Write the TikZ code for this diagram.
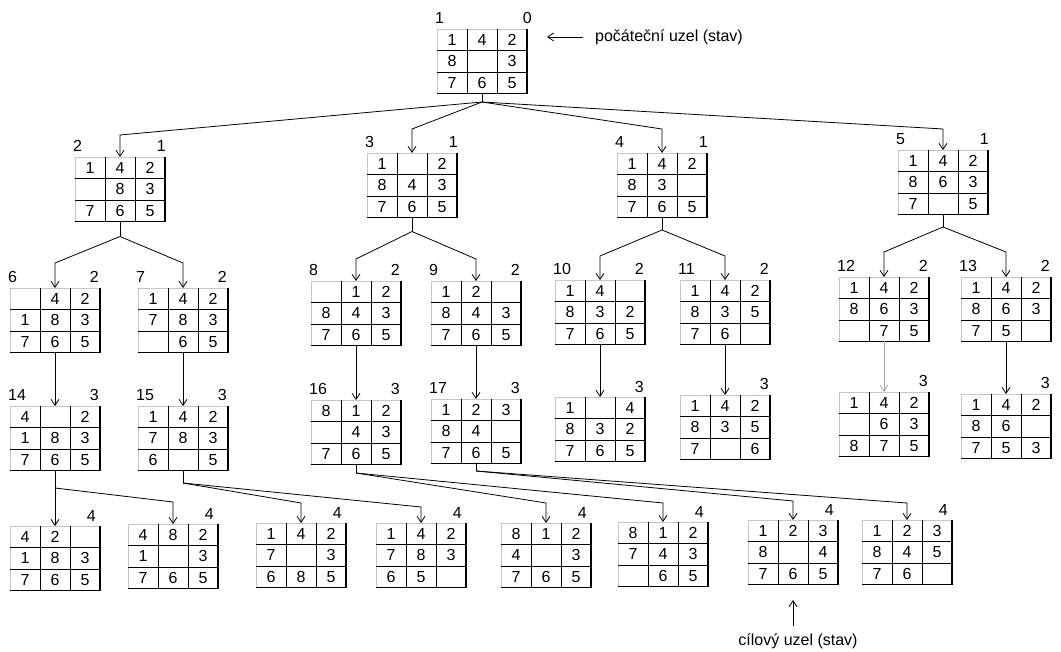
\documentclass[tikz,border=0pt]{standalone}
\usepackage{fontspec}
\setmainfont{Liberation Sans}
\usetikzlibrary{arrows.meta,calc}
\tikzset{
  grid/.style={minimum width=90pt, minimum height=64.5pt, inner sep=0pt, outer sep=0pt, anchor=north west},
  dig/.style={font=\fontsize{16}{16}\selectfont, inner sep=0pt},
  lbl/.style={font=\fontsize{16}{16}\selectfont, inner sep=0pt},
  ann/.style={font=\fontsize{16}{16}\selectfont, inner sep=0pt},
  lightedge/.style={gray!45, line width=0.8pt},
  inedge/.style={black, line width=0.8pt},
  outedge/.style={black, line width=1.8pt},
  wire/.style={black, line width=0.8pt},
  conn/.style={black, line width=0.8pt, -{Straight Barb[length=6pt,width=8pt]}},
}
\def\rlo{0}
% name, position, left label, right label, row1, row2, row3
\newcommand{\puz}[7]{%
  \node[grid] (#1) at (#2) {};
  \draw[lightedge] (#1.south west) -- (#1.north west) -- (#1.north east);
  \foreach \kk in {1,2}{
    \draw[inedge] ($(#1.north west)+(\kk*30,0)$) -- ($(#1.south west)+(\kk*30,0)$);
    \draw[inedge] ($(#1.north west)+(0,\kk*21.5)$) -- ($(#1.north east)+(0,\kk*21.5)$);
  }
  \draw[outedge] ($(#1.south west)+(0,0)$) -- (#1.south east) -- (#1.north east);
  \foreach \aa [count=\col] in {#5} {\node[dig] at ($(#1.north west)+(\col*30-15,10.75)$) {\aa};}
  \foreach \aa [count=\col] in {#6} {\node[dig] at ($(#1.north west)+(\col*30-15,32.25)$) {\aa};}
  \foreach \aa [count=\col] in {#7} {\node[dig] at ($(#1.north west)+(\col*30-15,53.75)$) {\aa};}
  \if\relax\detokenize{#3}\relax\else
    \node[lbl, anchor=base west] (#1-l) at ($(#1.north west)+(-2,-5)$) {#3};
  \fi
  \node[lbl, anchor=base east] (#1-r) at ($(#1.north east)+(\rlo,-5)$) {#4};
}
\begin{document}
\begin{tikzpicture}[x=1pt, y=-1pt]
\useasboundingbox (0,0) rectangle (1061,652);
% root
\def\rlo{5}
\puz{n1}{437,29}{1}{0}{1,4,2}{8,{},3}{7,6,5}
% level 1
\def\rlo{1}
\puz{n2}{75,157}{2}{1}{1,4,2}{{},8,3}{7,6,5}
\puz{n3}{367,153}{3}{1}{1,{},2}{8,4,3}{7,6,5}
\puz{n4}{617,153}{4}{1}{1,4,2}{8,3,{}}{7,6,5}
\puz{n5}{898,150}{5}{1}{1,4,2}{8,6,3}{7,{},5}
% level 2
\def\rlo{-1}
\puz{n6}{10,288}{6}{2}{{},4,2}{1,8,3}{7,6,5}
\puz{n7}{138,288}{7}{2}{1,4,2}{7,8,3}{{},6,5}
\puz{n8}{311,281}{8}{2}{{},1,2}{8,4,3}{7,6,5}
\puz{n9}{431,281}{9}{2}{1,2,{}}{8,4,3}{7,6,5}
\puz{n10}{555,280}{10}{2}{1,4,{}}{8,3,2}{7,6,5}
\puz{n11}{680,280}{11}{2}{1,4,2}{8,3,5}{7,6,{}}
\puz{n12}{839,277}{12}{2}{1,4,2}{8,6,3}{{},7,5}
\puz{n13}{961,277}{13}{2}{1,4,2}{8,6,3}{7,5,{}}
% level 3
\puz{n14}{10,406}{14}{3}{4,{},2}{1,8,3}{7,6,5}
\puz{n15}{138,406}{15}{3}{1,4,2}{7,8,3}{6,{},5}
\puz{n16}{311,400}{16}{3}{8,1,2}{{},4,3}{7,6,5}
\puz{n17}{431,399}{17}{3}{1,2,3}{8,4,{}}{7,6,5}
\puz{n18}{555,397}{}{3}{1,{},4}{8,3,2}{7,6,5}
\puz{n19}{680,395}{}{3}{1,4,2}{8,3,5}{7,{},6}
\puz{n20}{839,392}{}{3}{1,4,2}{{},6,3}{8,7,5}
\puz{n21}{961,394}{}{3}{1,4,2}{8,6,{}}{7,5,3}
% level 4
\def\rlo{-4}
\puz{n22}{10,526}{}{4}{4,2,{}}{1,8,3}{7,6,5}
\puz{n23}{128,524}{}{4}{4,8,2}{1,{},3}{7,6,5}
\puz{n24}{256,523}{}{4}{1,4,2}{7,{},3}{6,8,5}
\puz{n25}{376,523}{}{4}{1,4,2}{7,8,3}{6,5,{}}
\puz{n26}{501,523}{}{4}{8,1,2}{4,{},3}{7,6,5}
\puz{n27}{618,522}{}{4}{8,1,2}{7,4,3}{{},6,5}
\puz{n28}{748,520}{}{4}{1,2,3}{8,{},4}{7,6,5}
\puz{n29}{862,520}{}{4}{1,2,3}{8,4,5}{7,6,{}}

% connectors: root -> level 1
\coordinate (b1) at ($(n1.south)+(0,8.5)$);
\draw[wire] (n1.south) -- (b1);
\draw[conn] (b1) -- ($(n2.north)+(0,-22)$) -- (n2.north);
\draw[conn] (b1) -- ($(n3.north)+(0,-24)$) -- (n3.north);
\draw[conn] (b1) -- ($(n4.north)+(0,-24)$) -- (n4.north);
\draw[conn] (b1) -- ($(n5.north)+(0,-21)$) -- (n5.north);
% level 1 -> level 2
\coordinate (b2) at ($(n2.south)+(0,15)$);
\draw[wire] (n2.south) -- (b2);
\draw[conn] (b2) -- ($(n6.north)+(0,-25)$) -- (n6.north);
\draw[conn] (b2) -- ($(n7.north)+(0,-25)$) -- (n7.north);
\coordinate (b3) at ($(n3.south)+(0,14)$);
\draw[wire] (n3.south) -- (b3);
\draw[conn] (b3) -- ($(n8.north)+(0,-22)$) -- (n8.north);
\draw[conn] (b3) -- ($(n9.north)+(0,-22)$) -- (n9.north);
\coordinate (b4) at ($(n4.south)+(0,12.5)$);
\draw[wire] (n4.south) -- (b4);
\draw[conn] (b4) -- ($(n10.north)+(0,-24)$) -- (n10.north);
\draw[conn] (b4) -- ($(n11.north)+(0,-24)$) -- (n11.north);
\coordinate (b5) at ($(n5.south)+(0,12.5)$);
\draw[wire] (n5.south) -- (b5);
\draw[conn] (b5) -- ($(n12.north)+(0,-25)$) -- (n12.north);
\draw[conn] (b5) -- ($(n13.north)+(0,-25)$) -- (n13.north);
% level 2 -> level 3
\draw[conn] (n6.south) -- (n14.north);
\draw[conn] (n7.south) -- (n15.north);
\draw[conn] (n8.south) -- (n16.north);
\draw[conn] (n9.south) -- (n17.north);
\draw[conn] (n10.south) -- (n18.north);
\draw[conn] (n11.south) -- (n19.north);
\draw[conn, gray!70] (n12.south) -- (n20.north);
\draw[conn] (n13.south) -- (n21.north);
% level 3 -> level 4
\coordinate (b14) at ($(n14.south)+(0,17.5)$);
\draw[wire] (n14.south) -- (b14);
\draw[conn] (b14) -- (n22.north);
\draw[conn] (b14) -- ($(n23.north)+(0,-22)$) -- (n23.north);
\coordinate (b15) at ($(n15.south)+(0,12.5)$);
\draw[wire] (n15.south) -- (b15);
\draw[conn] (b15) -- ($(n24.north)+(0,-20)$) -- (n24.north);
\draw[conn] (b15) -- ($(n25.north)+(0,-16)$) -- (n25.north);
\coordinate (b16) at ($(n16.south)+(0,8.5)$);
\draw[wire] (n16.south) -- (b16);
\draw[conn] (b16) -- ($(n26.north)+(0,-20)$) -- (n26.north);
\draw[conn] (b16) -- ($(n27.north)+(0,-19)$) -- (n27.north);
\coordinate (b17) at ($(n17.south)+(0,7.5)$);
\draw[wire] (n17.south) -- (b17);
\draw[conn] (b17) -- ($(n28.north)+(0,-19)$) -- (n28.north);
\draw[conn] (b17) -- ($(n29.north)+(0,-17)$) -- (n29.north);

% annotations
\node[ann, anchor=west] (startlbl) at (595,37) {počáteční uzel (stav)};
\coordinate (starttail) at ($(startlbl.west)+(-12,0)$);
\draw[conn] (starttail) -- ++(-36,0);
\node[ann, anchor=base] (goallbl) at (798,645) {cílový uzel (stav)};
\coordinate (goaltail) at ($(n28.south)+(0,41)$);
\draw[conn] (goaltail) -- ($(n28.south)+(0,15.5)$);
\end{tikzpicture}
\end{document}
